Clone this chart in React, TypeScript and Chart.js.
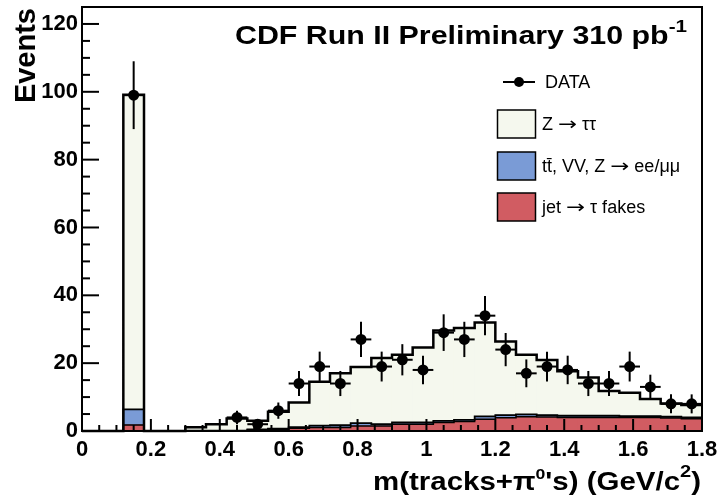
import React, { useEffect, useRef } from "react";
import { Chart, registerables } from "chart.js";

Chart.register(...registerables);

const FONT = '"Liberation Sans", Arial, Helvetica, "DejaVu Sans", sans-serif';
const ARROW_FONT = '"DejaVu Sans", sans-serif';

// bin centres (GeV/c^2), bin width 0.06
const binCenters = [
  0.03, 0.09, 0.15, 0.21, 0.27, 0.33, 0.39, 0.45, 0.51, 0.57,
  0.63, 0.69, 0.75, 0.81, 0.87, 0.93, 0.99, 1.05, 1.11, 1.17,
  1.23, 1.29, 1.35, 1.41, 1.47, 1.53, 1.59, 1.65, 1.71, 1.77,
];
const binHalfWidth = 0.03;

// jet -> tau fakes (bottom of stack)
const fakes = [
  0, 0, 1.8, 0, 0, 0, 0, 0, 0.4, 0.5,
  0.8, 1.0, 1.0, 1.5, 1.5, 2.0, 2.0, 2.5, 2.8, 3.5,
  3.9, 4.2, 4.1, 4.0, 4.0, 4.0, 4.0, 4.0, 3.8, 3.6,
];
// ttbar, VV, Z -> ee/mumu
const otherBkg = [
  0, 0, 4.6, 0, 0, 0.1, 0.1, 0.1, 0.1, 0.2,
  0.3, 0.6, 0.7, 0.8, 0.5, 0.5, 0.5, 0.5, 0.5, 0.8,
  0.8, 0.7, 0.6, 0.5, 0.5, 0.5, 0.4, 0.4, 0.4, 0.4,
];
// Z -> tautau
const ztautau = [
  0, 0, 92.7, 0, 0, 1.0, 1.9, 3.6, 2.5, 5.0,
  7.3, 12.9, 15.3, 16.6, 19.5, 20.0, 22.1, 26.6, 27.1, 27.7,
  21.7, 17.6, 16.2, 13.1, 11.3, 7.3, 6.9, 5.0, 3.9, 3.7,
];
// DATA
const dataCounts = [
  null, null, 99, null, null, null, null, 4, 2, 6,
  14, 19, 14, 27, 19, 21, 18, 29, 27, 34,
  24, 17, 19, 18, 14, 14, 19, 13, 8, 8,
];
const dataErrors = [
  null, null, 10, null, null, null, null, 2, 1.4, 2.4,
  3.7, 4.4, 3.7, 5.2, 4.4, 4.6, 4.2, 5.4, 5.2, 5.8,
  4.9, 4.1, 4.4, 4.2, 3.7, 3.7, 4.4, 3.6, 2.8, 2.8,
];

const xMin = 0;
const xMax = 1.8;
const xMajorStep = 0.2;
const xMinorStep = 0.05;
const yMin = 0;
const yMax = 125;
const yMajorStep = 20;
const yMinorStep = 5;

// legend labels, split so that the arrow can use a wider glyph
const legendData = "DATA";
const legendZtt = ["Z ", "\u2192", " \u03c4\u03c4"];
const legendOther = ["tt\u0304, VV, Z ", "\u2192", " ee/\u03bc\u03bc"];
const legendFakes = ["jet ", "\u2192", " \u03c4 fakes"];
const yTitle = "Events";

const COL_ZTT = "rgb(245,248,238)";
const COL_OTHER = "rgb(122,155,214)";
const COL_FAKES = "rgb(209,92,98)";

type Seg = { t: string; size: number; dy?: number };

function drawSegs(ctx: CanvasRenderingContext2D, segs: Seg[], x0: number, x1: number, baseline: number) {
  ctx.save();
  let natural = 0;
  const widths = segs.map((s) => {
    ctx.font = `bold ${s.size}px ${FONT}`;
    const w = ctx.measureText(s.t).width;
    natural += w;
    return w;
  });
  const sx = (x1 - x0) / natural;
  ctx.translate(x0, baseline);
  ctx.scale(sx, 1);
  ctx.fillStyle = "#000";
  ctx.textAlign = "left";
  ctx.textBaseline = "alphabetic";
  let x = 0;
  segs.forEach((s, i) => {
    ctx.font = `bold ${s.size}px ${FONT}`;
    ctx.fillText(s.t, x, s.dy || 0);
    x += widths[i];
  });
  ctx.restore();
}

function drawLegendText(ctx: CanvasRenderingContext2D, parts: string[], x: number, y: number) {
  ctx.save();
  ctx.fillStyle = "#000";
  ctx.textAlign = "left";
  ctx.textBaseline = "middle";
  let cx = x;
  parts.forEach((p, i) => {
    if (i === 1) {
      // arrow glyph, stretched to the width of the reference's symbol arrow
      ctx.font = `18px ${ARROW_FONT}`;
      const w = ctx.measureText(p).width;
      const target = 19;
      ctx.save();
      ctx.translate(cx, y);
      ctx.scale(target / w, 1);
      ctx.fillText(p, 0, 0);
      ctx.restore();
      cx += target;
    } else {
      ctx.font = `18px ${FONT}`;
      ctx.fillText(p, cx, y);
      cx += ctx.measureText(p).width;
    }
  });
  ctx.restore();
}

function line(ctx: CanvasRenderingContext2D, x1: number, y1: number, x2: number, y2: number) {
  ctx.beginPath();
  ctx.moveTo(x1, y1);
  ctx.lineTo(x2, y2);
  ctx.stroke();
}

function stepOutline(chart: any, dsIndex: number, width: number) {
  const ctx = chart.ctx as CanvasRenderingContext2D;
  const meta = chart.getDatasetMeta(dsIndex);
  ctx.save();
  ctx.strokeStyle = "#000";
  ctx.lineWidth = width;
  ctx.lineJoin = "miter";
  ctx.beginPath();
  meta.data.forEach((el: any, i: number) => {
    const p = el.getProps(["x", "y", "width"], true);
    const l = p.x - p.width / 2;
    const r = p.x + p.width / 2;
    if (i === 0) ctx.moveTo(l, p.y);
    else ctx.lineTo(l, p.y);
    ctx.lineTo(r, p.y);
  });
  ctx.stroke();
  ctx.restore();
}

const histPlugin = {
  id: "histDecor",
  beforeDatasetDraw(chart: any, args: any) {
    if (args.index !== 0) return;
    const ctx = chart.ctx as CanvasRenderingContext2D;
    const a = chart.chartArea;
    const xs = chart.scales.x;
    const ys = chart.scales.y;
    // stacked outlines
    stepOutline(chart, 1, 1.5);
    stepOutline(chart, 2, 1.8);
    stepOutline(chart, 3, 2.5);

    // ticks and frame
    ctx.save();
    ctx.strokeStyle = "#000";
    ctx.lineWidth = 2;
    const nY = Math.round((yMax - yMin) / yMinorStep);
    for (let k = 0; k <= nY; k++) {
      const v = yMin + k * yMinorStep;
      const py = ys.getPixelForValue(v);
      const len = Math.abs(v % yMajorStep) < 1e-6 ? 17 : 8;
      line(ctx, a.left, py, a.left + len, py);
    }
    const nX = Math.round((xMax - xMin) / xMinorStep);
    const ratio = Math.round(xMajorStep / xMinorStep);
    for (let k = 0; k <= nX; k++) {
      const v = xMin + k * xMinorStep;
      const px = xs.getPixelForValue(v);
      const len = k % ratio === 0 ? 12 : 6;
      line(ctx, px, a.bottom, px, a.bottom - len);
    }
    ctx.lineWidth = 2;
    ctx.strokeRect(a.left, a.top, a.right - a.left, a.bottom - a.top);
    ctx.restore();

    // error bars
    const meta = chart.getDatasetMeta(0);
    ctx.save();
    ctx.strokeStyle = "#000";
    ctx.lineWidth = 2;
    meta.data.forEach((el: any, i: number) => {
      const raw = chart.data.datasets[0].data[i] as any;
      if (!raw) return;
      const err = raw.err as number;
      const px = xs.getPixelForValue(raw.x);
      const py = ys.getPixelForValue(raw.y);
      line(ctx, px, ys.getPixelForValue(raw.y + err), px, ys.getPixelForValue(Math.max(0, raw.y - err)));
      line(ctx, xs.getPixelForValue(raw.x - binHalfWidth), py, xs.getPixelForValue(raw.x + binHalfWidth), py);
    });
    ctx.restore();
  },
  afterDraw(chart: any) {
    const ctx = chart.ctx as CanvasRenderingContext2D;
    // Title
    drawSegs(ctx, [
      { t: "CDF Run II Preliminary 310 pb", size: 25 },
      { t: "-1", size: 17, dy: -12 },
    ], 235, 687, 44);
    // x title
    drawSegs(ctx, [
      { t: "m(tracks+", size: 25 },
      { t: "\u03c0", size: 25 },
      { t: "0", size: 15, dy: -11 },
      { t: "'s) (GeV/c", size: 25 },
      { t: "2", size: 17, dy: -13 },
      { t: ")", size: 25 },
    ], 373, 701, 490);
    // y title
    ctx.save();
    ctx.translate(35, 8);
    ctx.rotate(-Math.PI / 2);
    ctx.font = `bold 29px ${FONT}`;
    ctx.fillStyle = "#000";
    ctx.textAlign = "right";
    ctx.textBaseline = "alphabetic";
    ctx.fillText(yTitle, 0, 0);
    ctx.restore();

    // Legend
    ctx.save();
    ctx.strokeStyle = "#000";
    ctx.fillStyle = "#000";
    ctx.lineWidth = 2;
    line(ctx, 503, 82, 535, 82);
    ctx.beginPath();
    ctx.arc(519, 82, 5, 0, Math.PI * 2);
    ctx.fill();
    ctx.font = `18px ${FONT}`;
    ctx.textAlign = "left";
    ctx.textBaseline = "middle";
    ctx.fillText(legendData, 545, 83);
    const boxes = [
      { c: COL_ZTT, y: 110, label: legendZtt },
      { c: COL_OTHER, y: 152, label: legendOther },
      { c: COL_FAKES, y: 193, label: legendFakes },
    ];
    boxes.forEach((b) => {
      ctx.fillStyle = b.c;
      ctx.fillRect(497.5, b.y, 38, 28);
      ctx.lineWidth = 1.5;
      ctx.strokeStyle = "#000";
      ctx.strokeRect(497.5, b.y, 38, 28);
      drawLegendText(ctx, b.label, 542, b.y + 15);
    });
    ctx.restore();
  },
};

export default function App() {
  const ref = useRef<HTMLCanvasElement | null>(null);
  useEffect(() => {
    if (!ref.current) return;
    const toXY = (arr: number[]) => binCenters.map((x, i) => ({ x, y: arr[i] }));
    const points = binCenters
      .map((x, i) => (dataCounts[i] == null ? null : { x, y: dataCounts[i] as number, err: dataErrors[i] as number }))
      .filter((p) => p !== null);

    const barCommon = {
      type: "bar" as const,
      borderWidth: 0,
      barPercentage: 1,
      categoryPercentage: 1,
      stack: "mc",
    };

    const chart = new Chart(ref.current, {
      type: "bar",
      data: {
        datasets: [
          {
            type: "scatter",
            label: legendData,
            data: points as any,
            pointRadius: 5.5,
            pointHoverRadius: 5.5,
            pointBackgroundColor: "#000",
            pointBorderWidth: 0,
            showLine: false,
            stack: "data",
            order: 0,
          } as any,
          { ...barCommon, label: legendFakes.join(""), data: toXY(fakes), backgroundColor: COL_FAKES, order: 1 } as any,
          { ...barCommon, label: legendOther.join(""), data: toXY(otherBkg), backgroundColor: COL_OTHER, order: 2 } as any,
          { ...barCommon, label: legendZtt.join(""), data: toXY(ztautau), backgroundColor: COL_ZTT, order: 3 } as any,
        ],
      },
      options: {
        responsive: false,
        animation: false,
        devicePixelRatio: 1,
        layout: { padding: { top: 7, right: 21, left: 0, bottom: 0 } },
        plugins: { legend: { display: false }, tooltip: { enabled: false } },
        events: [],
        scales: {
          x: {
            type: "linear",
            min: xMin,
            max: xMax,
            offset: false,
            stacked: true,
            grid: { display: false, drawTicks: false },
            border: { display: false },
            ticks: {
              stepSize: xMajorStep,
              color: "#000",
              font: { family: FONT, size: 22, weight: "bold" },
              padding: 6,
              maxRotation: 0,
              autoSkip: false,
              callback: (v: any) => String(Math.round(Number(v) * 10) / 10),
            },
            afterFit: (s: any) => {
              s.height = 69;
              s.paddingLeft = 0;
              s.paddingRight = 0;
            },
          },
          y: {
            min: yMin,
            max: yMax,
            stacked: true,
            grid: { display: false, drawTicks: false },
            border: { display: false },
            ticks: {
              stepSize: yMajorStep,
              includeBounds: false,
              color: "#000",
              font: { family: FONT, size: 22, weight: "bold" },
              padding: 4,
            },
            afterFit: (s: any) => {
              s.width = 82;
              s.paddingTop = 0;
              s.paddingBottom = 0;
            },
          },
        },
      } as any,
      plugins: [histPlugin as any],
    });
    return () => chart.destroy();
  }, []);

  return (
    <div style={{ position: "absolute", left: 0, top: 0, width: 723, height: 500, background: "#fff" }}>
      <canvas ref={ref} width={723} height={500} style={{ display: "block", width: 723, height: 500 }} />
    </div>
  );
}
